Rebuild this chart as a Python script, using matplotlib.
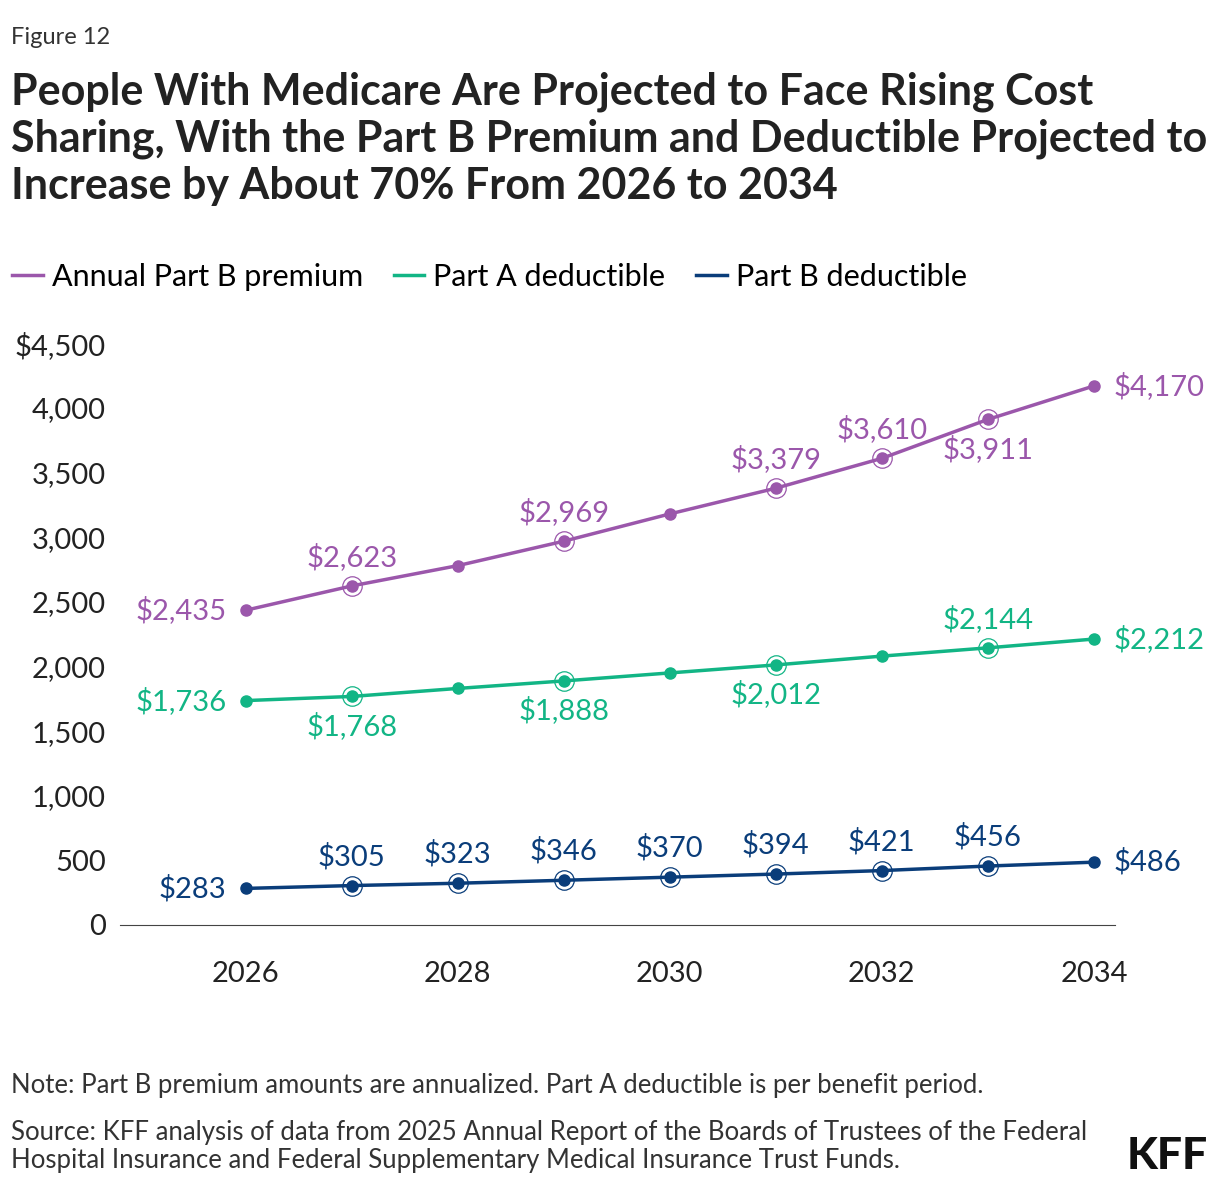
import matplotlib
matplotlib.use("Agg")
import matplotlib.pyplot as plt
from matplotlib.lines import Line2D

plt.rcParams['font.family'] = ['Lato', 'DejaVu Sans']

years = [2026, 2027, 2028, 2029, 2030, 2031, 2032, 2033, 2034]
premium = [2435, 2623, 2780, 2969, 3180, 3379, 3610, 3911, 4170]
part_a = [1736, 1768, 1830, 1888, 1950, 2012, 2080, 2144, 2212]
part_b = [283, 305, 323, 346, 370, 394, 421, 456, 486]
yticks = [0, 500, 1000, 1500, 2000, 2500, 3000, 3500, 4000, 4500]
ytick_labels = ['0', '500', '1,000', '1,500', '2,000', '2,500', '3,000', '3,500', '4,000', '$4,500']
xticks = [2026, 2028, 2030, 2032, 2034]

series = [
    ("Annual Part B premium", premium, "#9b57ab",
     ['L', 'U', None, 'U', None, 'U', 'U', 'D', 'R']),
    ("Part A deductible", part_a, "#12b585",
     ['L', 'D', None, 'D', None, 'D', None, 'U', 'R']),
    ("Part B deductible", part_b, "#0a3d7a",
     ['L', 'U', 'U', 'U', 'U', 'U', 'U', 'U', 'R']),
]

fig = plt.figure(figsize=(12.2, 11.92), dpi=100)
ax = fig.add_axes([0.098, 0.224, 0.816, 0.488])
ax.set_xlim(2024.81, 2034.2)
ax.set_ylim(0, 4500)

offs = {'L': (-14, 0, 'right', 'center'), 'R': (14, 0, 'left', 'center'),
        'U': (0, 11, 'center', 'bottom'), 'D': (0, -11, 'center', 'top')}
handles = []
for name, vals, col, pos in series:
    ax.plot(years, vals, color=col, lw=2.5, marker='o', ms=8, zorder=3)
    handles.append(Line2D([], [], color=col, lw=2.5, label=name))
    for i, (x, v, p) in enumerate(zip(years, vals, pos)):
        if p is not None and 0 < i < len(years) - 1:
            ax.plot([x], [v], marker='o', ms=14, mfc='none', mec=col, mew=0.9, zorder=3)
        if p is None:
            continue
        dx, dy, ha, va = offs[p]
        ax.annotate(f"${v:,}", (x, v), xytext=(dx, dy), textcoords='offset points',
                    ha=ha, va=va, fontsize=21, color=col)

for s in ['top', 'right', 'left']:
    ax.spines[s].set_visible(False)
ax.spines['bottom'].set_color('#444444')
ax.set_yticks(yticks)
ax.set_yticklabels(ytick_labels)
ax.set_xticks(xticks)
ax.tick_params(axis='y', length=0, labelsize=21, pad=10, colors='#222222')
ax.tick_params(axis='x', length=0, labelsize=21, pad=26, colors='#222222')

fig.legend(handles=handles, loc='center left', bbox_to_anchor=(0.0, 0.768), ncol=3, frameon=False,
           fontsize=22, handlelength=1.0, handletextpad=0.3, columnspacing=1.0,
           borderaxespad=0)

fig.text(0.009, 0.977, "Figure 12", fontsize=17, color='#333333', va='top')
fig.text(0.009, 0.94, "People With Medicare Are Projected to Face Rising Cost\n"
         "Sharing, With the Part B Premium and Deductible Projected to\n"
         "Increase by About 70% From 2026 to 2034",
         fontsize=31, fontweight='bold', color='#222222', va='top', linespacing=1.2)
fig.text(0.009, 0.089, "Note: Part B premium amounts are annualized. Part A deductible is per benefit period.",
         fontsize=18.5, color='#333333', va='center')
fig.text(0.009, 0.038, "Source: KFF analysis of data from 2025 Annual Report of the Boards of Trustees of the Federal\n"
         "Hospital Insurance and Federal Supplementary Medical Insurance Trust Funds.",
         fontsize=18.5, color='#333333', va='center', linespacing=1.15)
fig.text(0.99, 0.03, "KFF", fontsize=32, fontweight='black', color='#111111', ha='right', va='center')

fig.savefig("out.png", dpi=100)
